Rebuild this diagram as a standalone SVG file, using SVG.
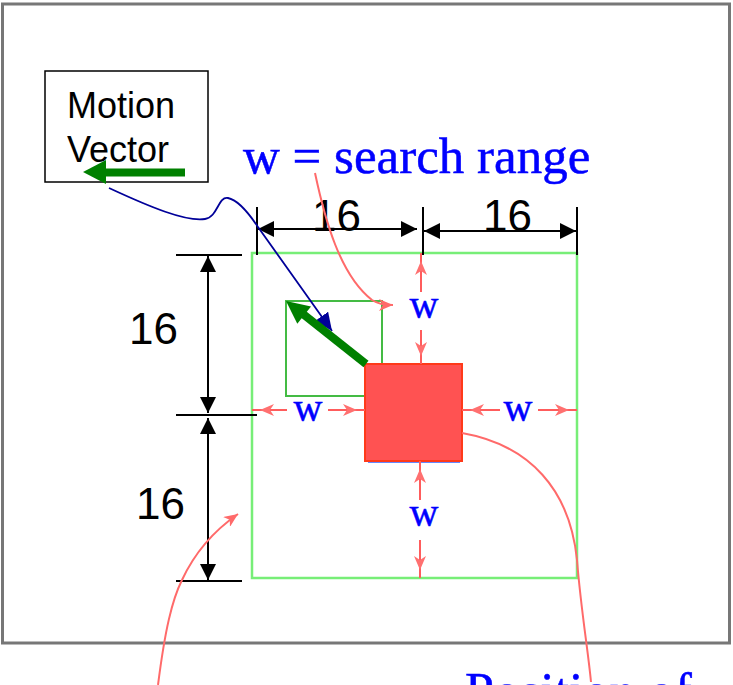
<svg xmlns="http://www.w3.org/2000/svg" width="733" height="685" viewBox="0 0 733 685">
  <style>
    .sans { font-family: "Liberation Sans", Arial, sans-serif; fill: #000; }
    .serif { font-family: "Liberation Serif", "Times New Roman", serif; fill: #0000ff; stroke: #0000ff; stroke-width: 0.5; }
    .dim { stroke: #000; stroke-width: 2; fill: none; }
    .tick { stroke: #000; stroke-width: 2; fill: none; }
    .wline { stroke: #ff5c5c; stroke-width: 2; fill: none; }
    .rcurve { stroke: #ff6a6a; stroke-width: 2; fill: none; }
  </style>
  <defs>
    <marker id="blk" viewBox="0 0 16 16" refX="16" refY="8" markerWidth="16" markerHeight="16" markerUnits="userSpaceOnUse" orient="auto-start-reverse">
      <path d="M0,0 L16,8 L0,16 z" fill="#000"/>
    </marker>
    <marker id="red" viewBox="0 0 24 12" refX="22" refY="6" markerWidth="24" markerHeight="12" markerUnits="userSpaceOnUse" orient="auto">
      <path d="M0,0 L14,6 L0,12 L4,6 z" fill="#ff7070"/>
    </marker>
    <marker id="redtip" viewBox="0 0 14 12" refX="14" refY="6" markerWidth="14" markerHeight="12" markerUnits="userSpaceOnUse" orient="auto">
      <path d="M0,0 L14,6 L0,12 L4,6 z" fill="#ff6a6a"/>
    </marker>
    <marker id="navy" viewBox="0 0 18 16" refX="18" refY="8" markerWidth="18" markerHeight="16" markerUnits="userSpaceOnUse" orient="auto">
      <path d="M0,0 L18,8 L0,16 z" fill="#000099"/>
    </marker>
  </defs>

  <rect x="2.5" y="4" width="727" height="639" fill="#fff" stroke="#777" stroke-width="3"/>

  <g id="search-window">
    <rect x="252" y="253" width="325" height="325" fill="none" stroke="#77ee77" stroke-width="2.5"/>
  </g>

  <g id="candidate-block">
    <rect x="286" y="301" width="96" height="95" fill="none" stroke="#44bb44" stroke-width="2"/>
  </g>

  <g id="current-block">
    <line x1="368" y1="462" x2="460" y2="462" stroke="#6688ff" stroke-width="2"/>
    <rect x="365" y="364" width="97" height="97" fill="#ff5252" stroke="#ff3a1a" stroke-width="2"/>
  </g>

  <g id="motion-vector-label">
    <rect x="45" y="71" width="163" height="111" fill="#fff" stroke="#000" stroke-width="1.5"/>
    <text class="sans" x="67" y="118" font-size="36">Motion</text>
    <text class="sans" x="67" y="162" font-size="36">Vector</text>
    <line x1="185" y1="172.5" x2="104" y2="172.5" stroke="#008000" stroke-width="8"/>
    <polygon points="83,172 106,160 106,184" fill="#008000"/>
  </g>

  <g id="search-range-label">
    <text class="serif" x="243" y="173" font-size="51">w = search range</text>
  </g>

  <g id="position-label">
    <text class="serif" x="465" y="709" font-size="52">Position of</text>
  </g>

  <g id="connectors">
    <line class="tick" x1="257" y1="207" x2="257" y2="255"/>
    <line class="tick" x1="423" y1="207" x2="423" y2="255"/>
    <line class="tick" x1="577" y1="207" x2="577" y2="255"/>
    <line class="tick" x1="176" y1="255" x2="242" y2="255"/>
    <line class="tick" x1="176" y1="415" x2="257" y2="415"/>
    <line class="tick" x1="176" y1="581" x2="242" y2="581"/>
    <line class="dim" x1="258" y1="229" x2="417" y2="229" marker-start="url(#blk)" marker-end="url(#blk)"/>
    <line class="dim" x1="424" y1="231" x2="576" y2="231" marker-start="url(#blk)" marker-end="url(#blk)"/>
    <line class="dim" x1="208" y1="256" x2="208" y2="413" marker-start="url(#blk)" marker-end="url(#blk)"/>
    <line class="dim" x1="208" y1="418" x2="208" y2="580" marker-start="url(#blk)" marker-end="url(#blk)"/>
    <text class="sans" x="312" y="231" font-size="44">16</text>
    <text class="sans" x="483" y="231" font-size="44">16</text>
    <text class="sans" x="129" y="344" font-size="44">16</text>
    <text class="sans" x="136" y="519" font-size="44">16</text>

    <line class="wline" x1="421" y1="292" x2="421" y2="253" marker-end="url(#red)"/>
    <line class="wline" x1="421" y1="330" x2="421" y2="364" marker-end="url(#red)"/>
    <line class="wline" x1="287" y1="410" x2="252" y2="410" marker-end="url(#red)"/>
    <line class="wline" x1="328" y1="410" x2="365" y2="410" marker-end="url(#red)"/>
    <line class="wline" x1="500" y1="410" x2="462" y2="410" marker-end="url(#red)"/>
    <line class="wline" x1="538" y1="410" x2="577" y2="410" marker-end="url(#red)"/>
    <line class="wline" x1="420" y1="500" x2="420" y2="461" marker-end="url(#red)"/>
    <line class="wline" x1="420" y1="540" x2="420" y2="578" marker-end="url(#red)"/>
    <text class="serif" x="424" y="318" font-size="40" text-anchor="middle">w</text>
    <text class="serif" x="308" y="421" font-size="40" text-anchor="middle">w</text>
    <text class="serif" x="518" y="421" font-size="40" text-anchor="middle">w</text>
    <text class="serif" x="424" y="526" font-size="40" text-anchor="middle">w</text>

    <path class="rcurve" d="M315,173 C325,220 340,275 372,300 C378,304 386,305 393,305" marker-end="url(#redtip)"/>
    <path class="rcurve" d="M462,433 C530,445 570,490 577,560 C581,610 588,650 591,682"/>
    <path class="rcurve" d="M158,685 C165,630 172,600 182,580 C195,552 215,530 238,514" marker-end="url(#redtip)"/>

    <path d="M109,188 C150,207 186,222 205,219 C218,217 218,196 228,198 C238,200 250,215 258,227 L332,331" fill="none" stroke="#000099" stroke-width="1.8" marker-end="url(#navy)"/>

    <line x1="366" y1="364" x2="303" y2="314" stroke="#008000" stroke-width="8"/>
    <polygon points="286,301 311,306.6 297.3,323.8" fill="#008000"/>
  </g>
</svg>
